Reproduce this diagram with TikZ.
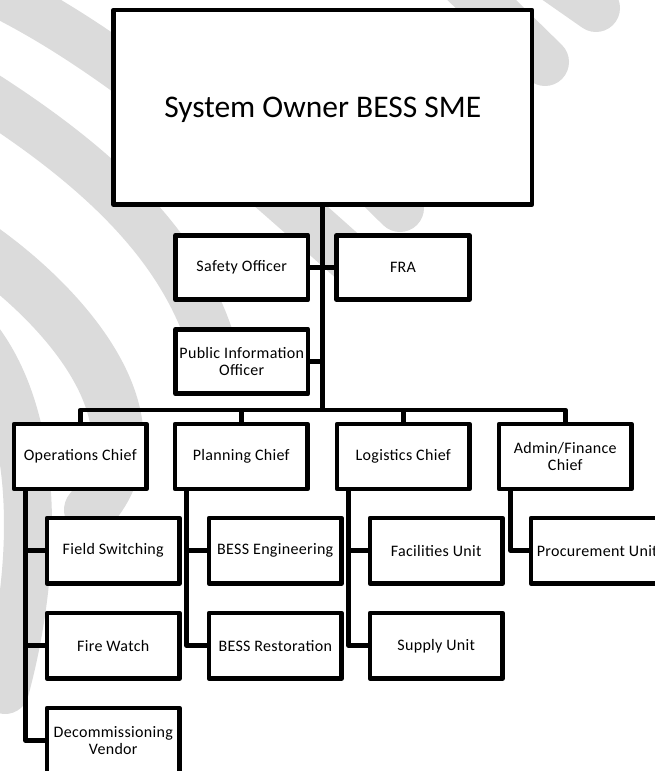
\documentclass[tikz,border=0pt]{standalone}
\usepackage{fontspec}
\setmainfont{Carlito}
\begin{document}
\begin{tikzpicture}[x=1pt,y=-1pt,
  box/.style={draw=black, fill=white, line width=4.6pt, line join=round,
    inner sep=0pt, align=center,
    font=\fontsize{16}{17.5}\selectfont\addfontfeatures{LetterSpace=2},
    minimum width=132.5pt, minimum height=64.5pt},
  wire/.style={draw=black, line width=4.6pt, line join=round},
  wm/.style={draw=black!14, line width=48pt, line cap=round}]
\clip (0,0) rectangle (655,771);
\fill[white] (0,0) rectangle (655,771);
% watermark (light grey, behind everything)
\draw[wm] (-30,-20) .. controls (110,40) and (250,170) .. (365,272);
\draw[wm] (-30,85) .. controls (90,160) and (180,240) .. (212,345);
\draw[wm, line width=52pt] (-30,240) .. controls (60,300) and (170,420) .. (90,510);
\draw[wm] (-30,330) .. controls (40,410) and (40,560) .. (5,690);
\draw[wm] (250,60) -- (400,208);
\draw[wm] (400,-80) -- (545,62);
\draw[wm] (470,-80) -- (596,8);
% nodes
\node[box, minimum width=418.5pt, minimum height=194.5pt, text depth=0pt,
  font=\fontsize{31.5}{36}\selectfont] (own) at (322.75,107.25) {System Owner BESS SME};
\node[box] (saf) at (241.75,267.5) {Safety Officer};
\node[box] (fra) at (403,267.5) {FRA};
\node[box] (pio) at (241.75,361.5) {Public Information\\Officer};
\node[box, minimum height=65pt] (ops) at (80.25,456.5) {Operations Chief};
\node[box, minimum height=65pt] (pla) at (241.25,456.5) {Planning Chief};
\node[box, minimum height=65pt] (log) at (403.25,456.5) {Logistics Chief};
\node[box, minimum height=65pt] (adm) at (565.25,456.5) {Admin/Finance\\Chief};
\node[box, minimum height=65.5pt] (fsw) at (113.25,550.75) {Field Switching};
\node[box, minimum height=65.5pt] (fwa) at (113.25,645.75) {Fire Watch};
\node[box, minimum height=65.5pt] (dec) at (113.25,740.75) {Decommissioning\\Vendor};
\node[box, minimum height=65.5pt] (ben) at (275.25,550.75) {BESS Engineering};
\node[box, minimum height=65.5pt] (bre) at (275.25,645.75) {BESS Restoration};
\node[box, minimum height=65.5pt] (fac) at (436.25,550.75) {Facilities Unit};
\node[box, minimum height=65.5pt] (sup) at (436.25,645.75) {Supply Unit};
\node[box, minimum height=65.5pt] (pro) at (597.25,550.75) {Procurement Unit};
% connectors
\coordinate (bus) at (322.75,410);
\coordinate (opsv) at ([xshift=14pt]ops.south west);
\coordinate (plav) at ([xshift=14pt]pla.south west);
\coordinate (logv) at ([xshift=14pt]log.south west);
\coordinate (admv) at ([xshift=14pt]adm.south west);
\draw[wire] (own.south) -- (bus);
\draw[wire] (saf.east) -- (fra.west);
\draw[wire] (pio.east) -- (pio.east -| bus);
\draw[wire] (ops.north) |- (bus -| adm.north) -- (adm.north);
\draw[wire] (pla.north) -- (pla.north |- bus);
\draw[wire] (log.north) -- (log.north |- bus);
\draw[wire] (opsv) |- (dec.west);
\draw[wire] (fsw.west) -- (fsw.west -| opsv);
\draw[wire] (fwa.west) -- (fwa.west -| opsv);
\draw[wire] (plav) |- (bre.west);
\draw[wire] (ben.west) -- (ben.west -| plav);
\draw[wire] (logv) |- (sup.west);
\draw[wire] (fac.west) -- (fac.west -| logv);
\draw[wire] (admv) |- (pro.west);
\end{tikzpicture}
\end{document}
